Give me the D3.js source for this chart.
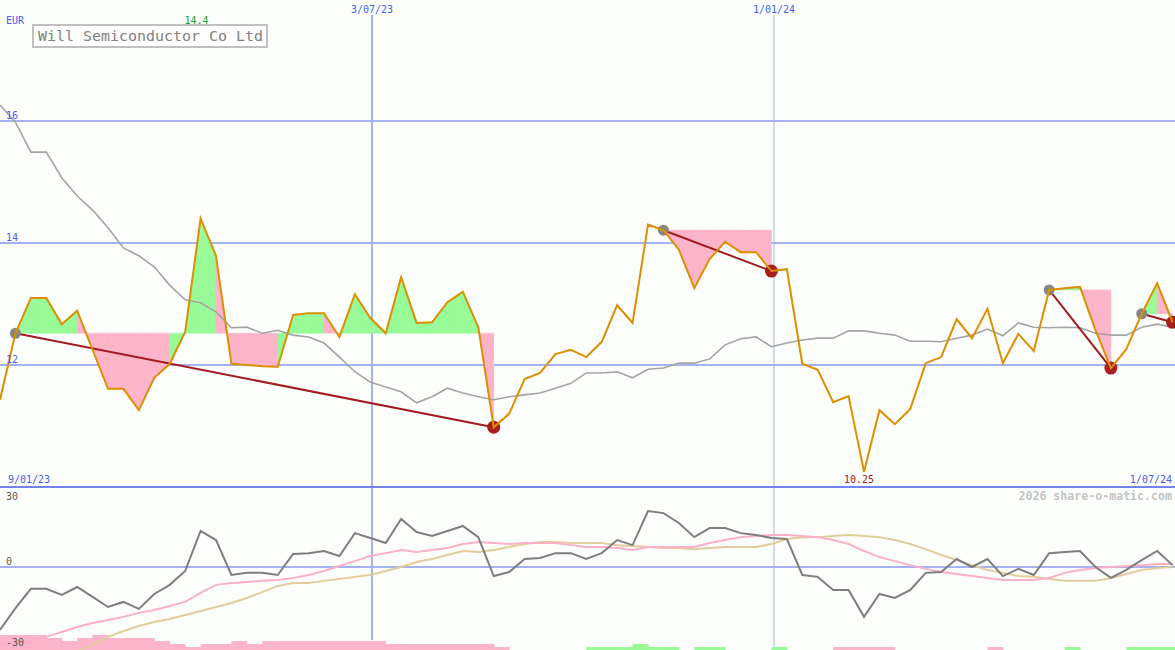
<!DOCTYPE html>
<html><head><meta charset="utf-8">
<script src="https://cdn.jsdelivr.net/npm/d3@7"></script>
<style>html,body{margin:0;padding:0;background:#fcfefc;} svg{display:block;}</style>
</head><body>
<svg id="c" width="1175" height="650"></svg>
<script>
// ---- data ----
const startDate = new Date(2023, 0, 15);
const currency = "EUR";
const title = "Will Semiconductor Co Ltd";
const watermark = "2026 share-o-matic.com";
const rangeStartLabel = "9/01/23";
const rangeEndLabel = "1/07/24";

const price = [11.43,12.52,13.10,13.10,12.67,12.89,12.25,11.61,11.61,11.26,
 11.79,12.02,12.54,14.40,13.79,12.02,12.00,11.98,11.97,12.82,
 12.85,12.85,12.46,13.16,12.77,12.52,13.44,12.69,12.70,13.03,
 13.20,12.62,10.98,11.20,11.77,11.87,12.18,12.25,12.13,12.38,
 12.98,12.69,14.30,14.21,13.89,13.26,13.74,14.02,13.85,13.85,
 13.54,13.57,12.02,11.92,11.39,11.49,10.25,11.26,11.03,11.28,
 12.03,12.13,12.75,12.44,12.92,12.03,12.51,12.23,13.23,13.26,
 13.28,12.57,11.95,12.26,12.84,13.34,12.70];

const movingAvg = [16.26,15.98,15.49,15.49,15.07,14.77,14.54,14.25,13.92,13.79,
 13.61,13.31,13.07,13.02,12.87,12.61,12.62,12.52,12.57,12.49,
 12.46,12.36,12.13,11.89,11.72,11.64,11.56,11.38,11.48,11.62,
 11.54,11.48,11.43,11.48,11.51,11.54,11.62,11.70,11.87,11.87,
 11.89,11.79,11.93,11.95,12.03,12.03,12.10,12.33,12.43,12.46,
 12.30,12.36,12.41,12.44,12.44,12.56,12.56,12.52,12.49,12.39,
 12.39,12.38,12.44,12.49,12.59,12.48,12.69,12.62,12.61,12.62,
 12.61,12.52,12.49,12.49,12.62,12.67,12.62];

const momentum = [-23.6,-15.4,-8.2,-8.2,-10.5,-7.5,-11.2,-15.0,-13.1,-15.7,
 -10.1,-6.7,-1.5,13.5,10.1,-3.0,-2.2,-2.2,-3.0,4.9,
 5.2,6.0,4.1,12.7,10.9,9.0,18.0,13.1,11.6,13.5,
 15.4,11.2,-3.4,-1.9,3.0,3.4,5.2,5.2,3.0,5.2,
 10.1,8.2,21.0,20.2,16.5,11.2,14.6,14.6,12.7,12.0,
 10.9,10.5,-3.0,-3.7,-8.6,-8.6,-18.7,-10.1,-11.6,-8.6,
 -2.2,-1.9,3.0,0.0,3.0,-3.4,-0.7,-3.0,5.2,5.6,
 6.0,0.0,-4.1,-1.1,2.6,6.0,0.7];

const momFast = [-29.2,-28.5,-27.4,-26.2,-24.4,-22.5,-21.0,-19.9,-18.7,-17.2,
 -16.1,-14.6,-13.1,-9.7,-6.7,-6.0,-5.6,-5.2,-4.9,-4.1,
 -3.0,-1.5,0.4,2.2,4.1,5.2,6.4,5.6,6.4,7.1,
 8.6,9.4,9.0,8.6,9.0,9.0,9.0,8.2,7.5,7.5,
 7.1,6.4,7.5,7.5,7.5,7.5,9.0,10.1,11.2,11.6,
 12.0,12.0,11.6,11.2,10.1,8.6,6.0,3.7,2.2,0.7,
 -0.7,-1.9,-2.6,-3.4,-4.1,-4.9,-4.9,-4.9,-4.1,-2.2,
 -1.1,-0.4,0.0,0.4,0.7,1.1,1.1];

const momSlow = [-45,-42,-39,-36,-33.5,-31.9,-29.2,-26.2,-24.0,-22.1,
 -20.6,-19.5,-18.0,-16.5,-15.0,-13.5,-11.6,-9.4,-7.1,-6.0,
 -6.0,-5.2,-4.5,-3.7,-3.0,-1.5,0.0,1.9,3.0,4.5,
 6.0,5.6,6.4,7.5,8.6,9.4,9.4,9.0,9.0,9.0,
 8.2,7.9,7.5,7.1,7.1,6.7,7.1,7.5,7.5,7.5,
 8.6,10.5,11.2,11.2,11.6,12.0,11.6,11.2,10.1,8.6,
 6.7,4.5,2.6,0.7,-1.1,-2.2,-3.4,-3.7,-4.5,-5.2,
 -5.2,-5.2,-4.1,-2.6,-1.1,-0.4,0.0];

const signalBars = [-5,-5,-5,-4,-3,-4,-5,-4,-4,-4,
 -3,-2,-1,-2,-2,-3,-2,-3,-3,-3,
 -3,-3,-3,-3,-3,-2,-2,-2,-2,-2,
 -2,-2,-1,0,0,0,0,0,1,1,
 1,2,1,1,0,1,1,0,0,0,
 1,0,0,0,-1,-1,-1,-1,0,0,
 0,0,0,0,-1,0,0,0,0,1,
 0,0,0,1,1,1,1];

const signalStarts = [1, 43, 68, 74];
const signalEnds   = [32, 50, 72, 76];

const priceTicks = [12, 14, 16];
const lowerTicks = [30, 0, -30];
const dateTicks = [new Date(2023, 6, 3), new Date(2024, 0, 1)];
const dateTickLabels = ["3/07/23", "1/01/24"];

// ---- setup ----
const W = 1175, H = 650;
const dates = price.map((_, i) => d3.timeDay.offset(startDate, 7 * i));
const svg = d3.select("#c");
const x = d3.scaleTime().domain([dates[0], dates[dates.length - 1]]).range([0, 1172.6]);
const y = d3.scaleLinear().domain([10, 18]).range([487, -1]);
const y2 = d3.scaleLinear().domain([-30, 30]).range([647, 487]);
const barY = d3.scaleLinear().domain([0, 5]).range([650, 635]);

const BLUE_GRID = "#a4b2f2", BLUE_TEXT = "#4a5cf0", SEP = "#7484ec";
const MONO = "'DejaVu Sans Mono', 'Liberation Mono', monospace";

svg.append("rect").attr("width", W).attr("height", H).attr("fill", "#fcfefc");

const defs = svg.append("defs");
defs.append("clipPath").attr("id", "lowClip").append("rect")
  .attr("x", 0).attr("y", 489).attr("width", W).attr("height", H - 489);
defs.append("clipPath").attr("id", "mainClip").append("rect")
  .attr("x", 0).attr("y", 0).attr("width", W).attr("height", 487);

// horizontal grid (main)
svg.selectAll(".hg").data(priceTicks).join("line")
  .attr("x1", 0).attr("x2", W).attr("y1", d => y(d)).attr("y2", d => y(d))
  .attr("stroke", BLUE_GRID).attr("stroke-width", 2);
// lower zero line
svg.append("line").attr("x1", 0).attr("x2", W).attr("y1", y2(0)).attr("y2", y2(0))
  .attr("stroke", BLUE_GRID).attr("stroke-width", 2);

// vertical date lines
svg.selectAll(".vg").data(dateTicks).join("line")
  .attr("x1", d => Math.round(x(d))).attr("x2", d => Math.round(x(d)))
  .attr("y1", 15).attr("y2", (d, i) => i === 0 ? 640 : 650)
  .attr("stroke", BLUE_GRID).attr("stroke-width", (d, i) => i === 0 ? 2 : 1);

// separator
svg.append("line").attr("x1", 0).attr("x2", W).attr("y1", 487).attr("y2", 487)
  .attr("stroke", SEP).attr("stroke-width", 2);

// ---- signal fills ----
const gMain = svg.append("g").attr("clip-path", "url(#mainClip)");
signalStarts.forEach((s, k) => {
  const e = signalEnds[k];
  const level = price[s];
  for (let i = s; i < e; i++) {
    const seg = [i, i + 1];
    const area = d3.area().x(j => x(dates[j])).y0(y(level)).y1(j => y(price[j]));
    gMain.append("path").attr("d", area(seg))
      .attr("fill", price[i + 1] >= level ? "#98fb98" : "#fbb4c8")
      .attr("stroke", price[i + 1] >= level ? "#98fb98" : "#fbb4c8").attr("stroke-width", 0.6);
  }
});

// moving average
gMain.append("path").datum(movingAvg)
  .attr("d", d3.line().x((d, i) => x(dates[i])).y(d => y(d)))
  .attr("fill", "none").attr("stroke", "#a4a4a4").attr("stroke-width", 1.6);

// signal lines
signalStarts.forEach((s, k) => {
  const e = signalEnds[k];
  gMain.append("line")
    .attr("x1", x(dates[s])).attr("y1", y(price[s]))
    .attr("x2", x(dates[e])).attr("y2", y(price[e]))
    .attr("stroke", "#a01c20").attr("stroke-width", 2);
  gMain.append("circle").attr("cx", x(dates[s])).attr("cy", y(price[s])).attr("r", 5.5).attr("fill", "#858585");
  gMain.append("circle").attr("cx", x(dates[e])).attr("cy", y(price[e])).attr("r", 6.5).attr("fill", "#a8201e");
});

// price line
gMain.append("path").datum(price)
  .attr("d", d3.line().x((d, i) => x(dates[i])).y(d => y(d)))
  .attr("fill", "none").attr("stroke", "#dc8f00").attr("stroke-width", 2).attr("stroke-linejoin", "miter");

// ---- lower panel ----
const gLow = svg.append("g").attr("clip-path", "url(#lowClip)");
const step = x(dates[1]) - x(dates[0]);
gLow.selectAll(".bar").data(signalBars).join("rect")
  .attr("x", (d, i) => x(dates[i]))
  .attr("width", (d, i) => Math.min(step, W - x(dates[i])) + 0.5)
  .attr("y", d => barY(Math.abs(d)))
  .attr("height", d => 650 - barY(Math.abs(d)))
  .attr("fill", d => d < 0 ? "#fbb4c8" : "#98fb98");

const l2 = d3.line().x((d, i) => x(dates[i])).y(d => y2(d));
gLow.append("path").datum(momSlow).attr("d", l2).attr("fill", "none")
  .attr("stroke", "#e2cc9c").attr("stroke-width", 2);
gLow.append("path").datum(momFast).attr("d", l2).attr("fill", "none")
  .attr("stroke", "#fbb0c8").attr("stroke-width", 2);
gLow.append("path").datum(momentum).attr("d", l2).attr("fill", "none")
  .attr("stroke", "#7e7e7e").attr("stroke-width", 2);

// ---- text ----
const txt = (s, xx, yy, opts = {}) => svg.append("text").text(s)
  .attr("x", xx).attr("y", yy)
  .attr("font-family", MONO).attr("font-size", opts.size || 10)
  .attr("font-weight", opts.weight || "normal")
  .attr("fill", opts.fill || BLUE_TEXT)
  .attr("text-anchor", opts.anchor || "start");

txt(currency, 6, 24);
priceTicks.forEach(t => txt(String(t), 6, y(t) - 2));
dateTicks.forEach((d, i) => txt(dateTickLabels[i], Math.round(x(d)), 13, { anchor: "middle" }));
txt(rangeStartLabel, 8, 483);
txt(rangeEndLabel, 1172, 483, { anchor: "end" });
lowerTicks.forEach(t => txt(String(t), 6, t === 30 ? 500 : (t === 0 ? 565 : 646), { fill: "#5a5a5a" }));

// max / min labels
const maxI = d3.maxIndex(price), minI = d3.minIndex(price);
txt(String(price[maxI].toFixed(1)), x(dates[maxI]) - 4, 24, { anchor: "middle", fill: "#22a022" });
txt(String(price[minI]), x(dates[minI]) - 5, 483, { anchor: "middle", fill: "#a02020" });

txt(watermark, 1172, 500, { anchor: "end", size: 11.6, weight: "bold", fill: "#c4c4c4" });

// title box
svg.append("rect").attr("x", 33).attr("y", 25).attr("width", 234).attr("height", 22)
  .attr("fill", "#ffffff").attr("stroke", "#c0c0c0").attr("stroke-width", 2);
svg.append("text").text(title).attr("x", 38).attr("y", 41)
  .attr("font-family", MONO).attr("font-size", 14.2).attr("fill", "#808080")
  .attr("textLength", 225).attr("lengthAdjust", "spacingAndGlyphs");
</script>
</body></html>
